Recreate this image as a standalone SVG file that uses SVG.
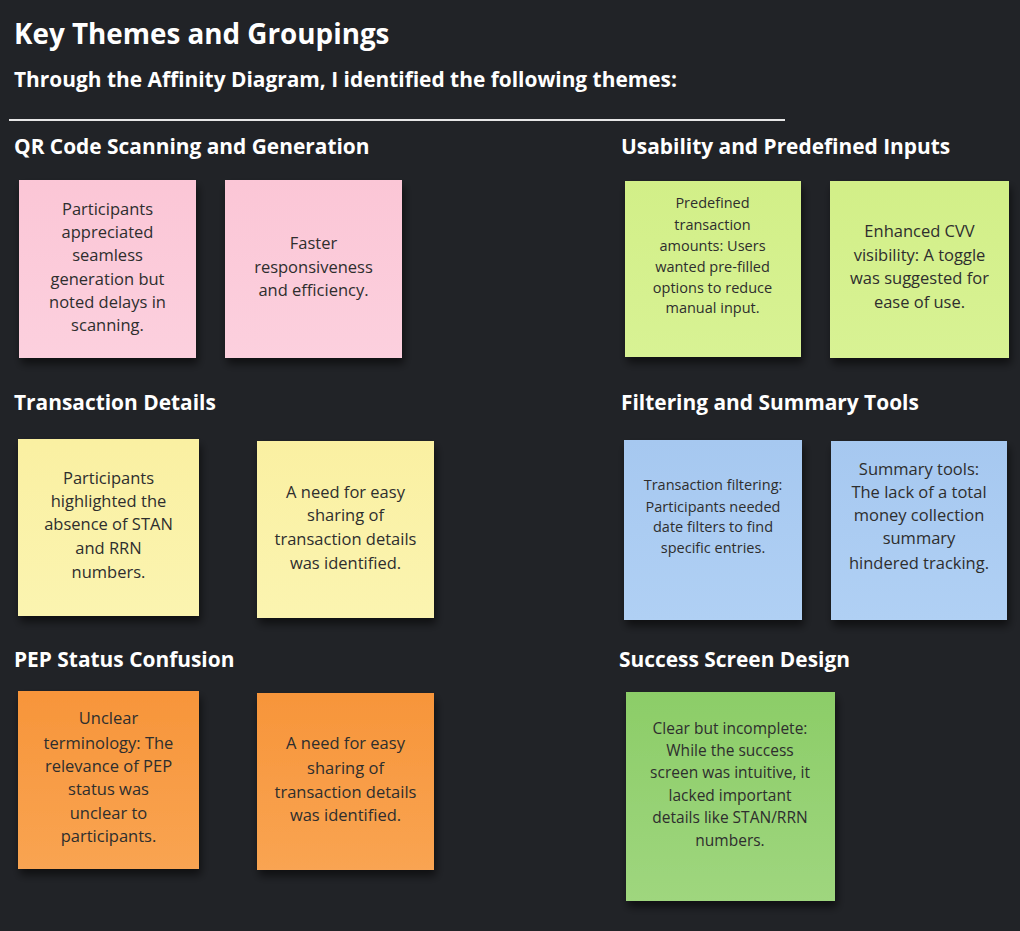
<svg xmlns="http://www.w3.org/2000/svg" width="1020" height="931" viewBox="0 0 1020 931">
<style>
.h1{font-family:"Open Sans","Liberation Sans",sans-serif;font-weight:700;fill:#ffffff;font-size:27.8px}
.h2{font-family:"Open Sans","Liberation Sans",sans-serif;font-weight:700;fill:#ffffff;font-size:20.9px}
.t{font-family:"Open Sans","Liberation Sans",sans-serif;fill:#2e2e2e;text-anchor:middle}
.s17{font-size:16.5px}
.s15{font-size:14.5px}
.s16{font-size:15.5px}
</style>
<defs>
<filter id="sh" x="-10%" y="-10%" width="130%" height="130%">
<feGaussianBlur in="SourceAlpha" stdDeviation="4"/>
<feOffset dx="2" dy="6"/>
<feComponentTransfer><feFuncA type="linear" slope="0.55"/></feComponentTransfer>
<feMerge><feMergeNode/><feMergeNode in="SourceGraphic"/></feMerge>
</filter>
<linearGradient id="gPink" x1="0" y1="0" x2="0" y2="1"><stop offset="0" stop-color="#fbc6d6"/><stop offset="1" stop-color="#fcd0de"/></linearGradient>
<linearGradient id="gLime" x1="0" y1="0" x2="0" y2="1"><stop offset="0" stop-color="#d2ef88"/><stop offset="1" stop-color="#d8f294"/></linearGradient>
<linearGradient id="gYel" x1="0" y1="0" x2="0" y2="1"><stop offset="0" stop-color="#faf0a2"/><stop offset="1" stop-color="#fbf4b0"/></linearGradient>
<linearGradient id="gBlue" x1="0" y1="0" x2="0" y2="1"><stop offset="0" stop-color="#a6c8f0"/><stop offset="1" stop-color="#b0d0f4"/></linearGradient>
<linearGradient id="gOr" x1="0" y1="0" x2="0" y2="1"><stop offset="0" stop-color="#f7953a"/><stop offset="1" stop-color="#f9a452"/></linearGradient>
<linearGradient id="gGr" x1="0" y1="0" x2="0" y2="1"><stop offset="0" stop-color="#8ccd68"/><stop offset="1" stop-color="#9fd67e"/></linearGradient>
</defs>
<rect width="1020" height="931" fill="#212327"/>

<g id="header">
<text class="h1" x="14" y="44">Key Themes and Groupings</text>
<text class="h2" x="14" y="87">Through the Affinity Diagram, I identified the following themes:</text>
<rect x="9" y="119" width="776" height="2" fill="#e6e6e6"/>
</g>

<g id="headings">
<text class="h2" x="14" y="154">QR Code Scanning and Generation</text>
<text class="h2" x="621" y="154">Usability and Predefined Inputs</text>
<text class="h2" x="14" y="410">Transaction Details</text>
<text class="h2" x="621" y="410">Filtering and Summary Tools</text>
<text class="h2" x="14" y="667">PEP Status Confusion</text>
<text class="h2" x="619" y="667">Success Screen Design</text>
</g>

<g id="note-pink-1">
<rect x="19" y="180" width="177" height="178" fill="url(#gPink)" filter="url(#sh)"/>
<text class="t s17" x="107.5"><tspan x="107.5" y="215">Participants</tspan><tspan x="107.5" y="238">appreciated</tspan><tspan x="107.5" y="261">seamless</tspan><tspan x="107.5" y="285">generation but</tspan><tspan x="107.5" y="308">noted delays in</tspan><tspan x="107.5" y="331">scanning.</tspan></text>
</g>
<g id="note-pink-2">
<rect x="225" y="180" width="177" height="178" fill="url(#gPink)" filter="url(#sh)"/>
<text class="t s17" x="313.5"><tspan x="313.5" y="249">Faster</tspan><tspan x="313.5" y="273">responsiveness</tspan><tspan x="313.5" y="296">and efficiency.</tspan></text>
</g>

<g id="note-lime-1">
<rect x="625" y="181" width="176" height="176" fill="url(#gLime)" filter="url(#sh)"/>
<text class="t s15" x="712.5"><tspan x="712.5" y="208">Predefined</tspan><tspan x="712.5" y="230">transaction</tspan><tspan x="712.5" y="251">amounts: Users</tspan><tspan x="712.5" y="272">wanted pre-filled</tspan><tspan x="712.5" y="293">options to reduce</tspan><tspan x="712.5" y="313">manual input.</tspan></text>
</g>
<g id="note-lime-2">
<rect x="830" y="181" width="179" height="177" fill="url(#gLime)" filter="url(#sh)"/>
<text class="t s17" x="919.5"><tspan x="919.5" y="237">Enhanced CVV</tspan><tspan x="919.5" y="261">visibility: A toggle</tspan><tspan x="919.5" y="284">was suggested for</tspan><tspan x="919.5" y="308">ease of use.</tspan></text>
</g>

<g id="note-yellow-1">
<rect x="18" y="439" width="181" height="177" fill="url(#gYel)" filter="url(#sh)"/>
<text class="t s17" x="108.5"><tspan x="108.5" y="484">Participants</tspan><tspan x="108.5" y="507">highlighted the</tspan><tspan x="108.5" y="530">absence of STAN</tspan><tspan x="108.5" y="554">and RRN</tspan><tspan x="108.5" y="578">numbers.</tspan></text>
</g>
<g id="note-yellow-2">
<rect x="257" y="441" width="177" height="177" fill="url(#gYel)" filter="url(#sh)"/>
<text class="t s17" x="345.5"><tspan x="345.5" y="498">A need for easy</tspan><tspan x="345.5" y="521">sharing of</tspan><tspan x="345.5" y="545">transaction details</tspan><tspan x="345.5" y="569">was identified.</tspan></text>
</g>

<g id="note-blue-1">
<rect x="624" y="440" width="178" height="180" fill="url(#gBlue)" filter="url(#sh)"/>
<text class="t s15" x="713"><tspan x="713" y="490">Transaction filtering:</tspan><tspan x="713" y="512">Participants needed</tspan><tspan x="713" y="532">date filters to find</tspan><tspan x="713" y="553">specific entries.</tspan></text>
</g>
<g id="note-blue-2">
<rect x="831" y="441" width="176" height="179" fill="url(#gBlue)" filter="url(#sh)"/>
<text class="t s17" x="919"><tspan x="919" y="475">Summary tools:</tspan><tspan x="919" y="498">The lack of a total</tspan><tspan x="919" y="521">money collection</tspan><tspan x="919" y="544">summary</tspan><tspan x="919" y="569">hindered tracking.</tspan></text>
</g>

<g id="note-orange-1">
<rect x="18" y="691" width="181" height="178" fill="url(#gOr)" filter="url(#sh)"/>
<text class="t s17" x="108.5"><tspan x="108.5" y="724">Unclear</tspan><tspan x="108.5" y="749">terminology: The</tspan><tspan x="108.5" y="772">relevance of PEP</tspan><tspan x="108.5" y="795">status was</tspan><tspan x="108.5" y="819">unclear to</tspan><tspan x="108.5" y="842">participants.</tspan></text>
</g>
<g id="note-orange-2">
<rect x="257" y="693" width="177" height="177" fill="url(#gOr)" filter="url(#sh)"/>
<text class="t s17" x="345.5"><tspan x="345.5" y="749">A need for easy</tspan><tspan x="345.5" y="774">sharing of</tspan><tspan x="345.5" y="798">transaction details</tspan><tspan x="345.5" y="821">was identified.</tspan></text>
</g>

<g id="note-green-1">
<rect x="626" y="692" width="209" height="209" fill="url(#gGr)" filter="url(#sh)"/>
<text class="t s16" x="730" fill="#1f2a1a"><tspan x="730" y="734">Clear but incomplete:</tspan><tspan x="730" y="756">While the success</tspan><tspan x="730" y="778">screen was intuitive, it</tspan><tspan x="730" y="801">lacked important</tspan><tspan x="730" y="823">details like STAN/RRN</tspan><tspan x="730" y="846">numbers.</tspan></text>
</g>
</svg>
